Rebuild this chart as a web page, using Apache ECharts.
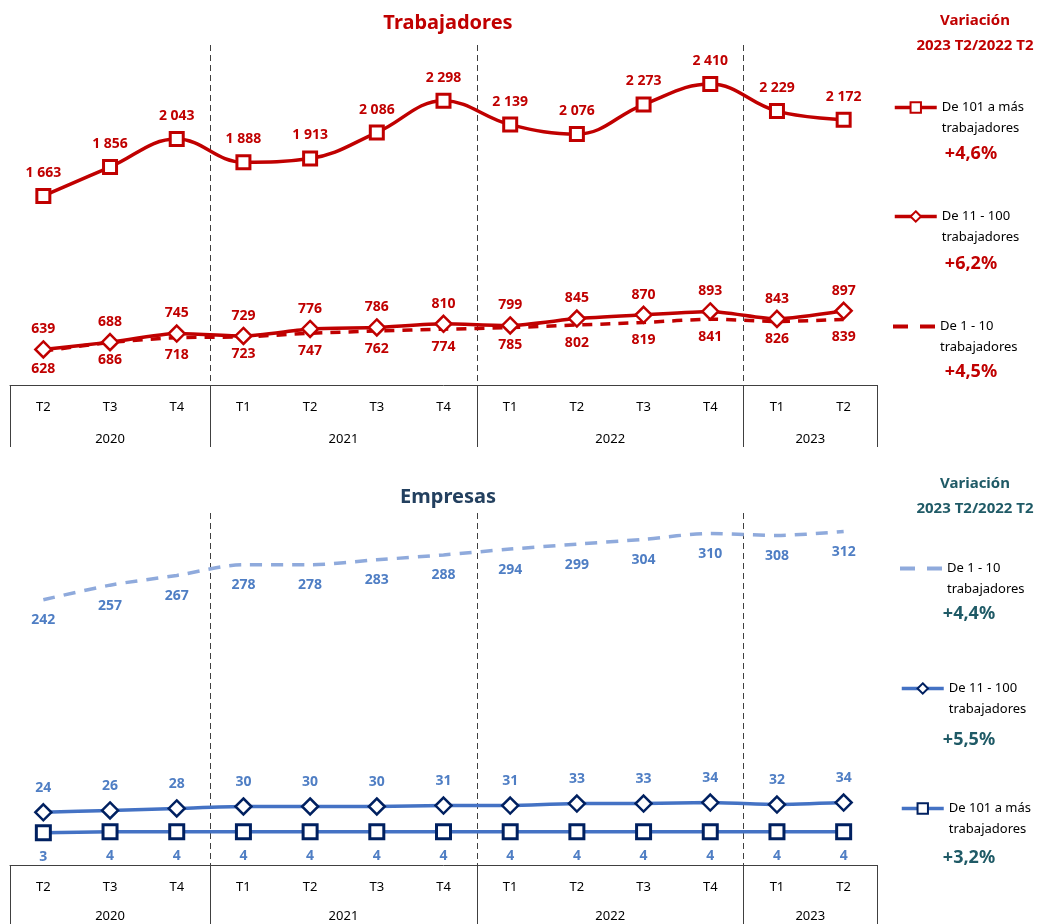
<!DOCTYPE html>
<html>
<head>
<meta charset="utf-8">
<script src="https://cdn.jsdelivr.net/npm/echarts@6/dist/echarts.min.js"></script>
<style>
  html, body { margin: 0; padding: 0; background: #fff; }
  .chart { width: 1041px; }
  #top { height: 460px; }
  #bottom { height: 464px; }
</style>
</head>
<body>
<div id="top" class="chart"></div>
<div id="bottom" class="chart"></div>
<script>
// eje de trimestres
const quarters = ['T2', 'T3', 'T4', 'T1', 'T2', 'T3', 'T4', 'T1', 'T2', 'T3', 'T4', 'T1', 'T2']
const yearNames = ['2020', '2021', '2022', '2023']
const yearSpans = [3, 4, 4, 2]

// Trabajadores (miles)
const trab101 = [1663, 1856, 2043, 1888, 1913, 2086, 2298, 2139, 2076, 2273, 2410, 2229, 2172]
const trab11 = [639, 688, 745, 729, 776, 786, 810, 799, 845, 870, 893, 843, 897]
const trab1 = [628, 686, 718, 723, 747, 762, 774, 785, 802, 819, 841, 826, 839]
const trabVar = ['+4,6%', '+6,2%', '+4,5%']

// Empresas (miles)
const emp1 = [242, 257, 267, 278, 278, 283, 288, 294, 299, 304, 310, 308, 312]
const emp11 = [24, 26, 28, 30, 30, 30, 31, 31, 33, 33, 34, 32, 34]
const emp101 = [3, 4, 4, 4, 4, 4, 4, 4, 4, 4, 4, 4, 4]
const empVar = ['+4,4%', '+5,5%', '+3,2%']

const FONT = '"Noto Sans", "Open Sans", sans-serif'
// icono de leyenda para la línea discontinua (dos trazos)
const DASH_ICON = 'path://M0,0h15v4h-15zM27,0h15v4h-15z'

// eje auxiliar: dos medios pasos por trimestre, el año va en el centro de su tramo
function yearAxis() {
  const data = new Array(quarters.length * 2 + 1).fill('')
  const bounds = [0]
  let start = 0
  yearSpans.forEach((n, i) => {
    data[start + n] = yearNames[i]
    start += 2 * n
    bounds.push(start)
  })
  return { data, bounds }
}

function fmt(v) {
  return String(v).replace(/\B(?=(\d{3})+(?!\d))/g, ' ')
}

function buildOption(cfg) {
  const ya = yearAxis()
  const inner = ya.bounds.slice(1, -1)
  const titles = [
    {
      text: cfg.title, left: 443, top: cfg.titleTop, textAlign: 'center',
      textStyle: { fontFamily: FONT, fontSize: 20, fontWeight: 'bold', color: cfg.titleColor }
    },
    {
      text: 'Variación\n2023 T2/2022 T2', left: 970, top: cfg.headTop, textAlign: 'center',
      textStyle: { fontFamily: FONT, fontSize: 15, fontWeight: 'bold', color: cfg.varColor, lineHeight: 25 }
    }
  ]
  cfg.variation.forEach((v, i) => {
    titles.push({
      text: v, left: cfg.varX, top: cfg.varTops[i], textAlign: 'center',
      textStyle: { fontFamily: FONT, fontSize: 18, fontWeight: 'bold', color: cfg.varColor }
    })
  })

  // el icono queda centrado en el bloque de texto: una línea vacía arriba lo alinea con la primera línea
  const legends = cfg.series.map((s, i) => {
    const lg = {
      data: [s.dash ? { name: s.name, icon: DASH_ICON } : s.name],
      left: cfg.legendX,
      top: cfg.legendTops[i],
      padding: 0,
      itemWidth: 42,
      itemHeight: s.dash ? 4 : 13,
      selectedMode: false,
      formatter: (name) => '\n' + name,
      lineStyle: { width: 3.5 },
      textStyle: { fontFamily: FONT, fontSize: 13, color: '#000', lineHeight: 21 }
    }
    if (s.dash) lg.itemStyle = { color: s.color, borderWidth: 0 }
    return lg
  })

  return {
    animation: false,
    title: titles,
    legend: legends,
    grid: { left: 10, right: 164, top: cfg.gridTop, bottom: cfg.gridBottom },
    xAxis: [
      {
        type: 'category',
        data: quarters,
        position: 'bottom',
        axisLine: { onZero: false, lineStyle: { color: '#404040', width: 1 } },
        axisTick: { show: false },
        axisLabel: { color: '#000', fontFamily: FONT, fontSize: 13, margin: 16, interval: 0 }
      },
      {
        type: 'category',
        data: ya.data,
        position: 'bottom',
        boundaryGap: false,
        axisLine: { show: false, onZero: false },
        axisTick: {
          show: true, length: cfg.tickLen,
          interval: (idx) => ya.bounds.includes(idx),
          lineStyle: { color: '#404040', width: 1 }
        },
        axisLabel: { color: '#000', fontFamily: FONT, fontSize: 13, margin: cfg.yearMargin, interval: 0 },
        splitLine: {
          show: true,
          interval: (idx) => inner.includes(idx),
          lineStyle: { color: '#404040', type: [6, 4], width: 1 }
        }
      }
    ],
    yAxis: { type: 'value', show: false, min: cfg.yMin, max: cfg.yMax },
    series: cfg.series.map((s) => ({
      name: s.name,
      type: 'line',
      xAxisIndex: 0,
      data: s.data,
      smooth: s.smooth,
      symbol: s.symbol,
      symbolSize: s.symbolSize,
      showSymbol: true,
      itemStyle: s.dash
        ? { color: 'rgba(0,0,0,0)', borderWidth: 0 }
        : { color: '#fff', borderColor: s.markColor, borderWidth: s.borderWidth },
      lineStyle: { color: s.color, width: s.width, type: s.dash || 'solid' },
      label: {
        show: true,
        position: s.labelPos,
        distance: s.labelDist,
        formatter: (p) => fmt(p.value),
        fontFamily: FONT, fontSize: 14, fontWeight: 'bold', color: s.labelColor
      },
      emphasis: { disabled: true }
    }))
  }
}

const RED = '#C00000'
const BLUE = '#4472C4'
const NAVY = '#002060'
const LIGHT = '#8FAADC'
const LBLUE = '#4F7EC4'

const topOption = buildOption({
  title: 'Trabajadores', titleTop: 8, titleColor: RED,
  headTop: 3, varColor: RED, varX: 966, varTops: [140, 250, 358],
  legendX: 893, legendTops: [76, 185, 295],
  gridTop: 45, gridBottom: 75, tickLen: 62, yearMargin: 48,
  yMin: 402, yMax: 2670,
  variation: trabVar,
  series: [
    { name: 'De 101 a más\ntrabajadores', data: trab101, smooth: 0.4, symbol: 'rect', symbolSize: 13, borderWidth: 3,
      color: RED, markColor: RED, width: 3.5, labelPos: 'top', labelDist: 8, labelColor: RED },
    { name: 'De 11 - 100\ntrabajadores', data: trab11, smooth: 0.2, symbol: 'diamond', symbolSize: 16, borderWidth: 2.5,
      color: RED, markColor: RED, width: 3.5, labelPos: 'top', labelDist: 4, labelColor: RED },
    { name: 'De 1 - 10\ntrabajadores', data: trab1, smooth: 0.2, symbol: 'circle', symbolSize: 1, borderWidth: 0,
      color: RED, markColor: RED, width: 3.5, dash: [10, 8], labelPos: 'bottom', labelDist: 10, labelColor: RED }
  ]
})

const bottomOption = buildOption({
  title: 'Empresas', titleTop: 22, titleColor: '#23405F',
  headTop: 6, varColor: '#1F5A66', varX: 964, varTops: [140, 266, 384],
  legendX: 900, legendTops: [77, 197, 317],
  gridTop: 53, gridBottom: 59, tickLen: 62, yearMargin: 45,
  yMin: -30, yMax: 331,
  variation: empVar,
  series: [
    { name: 'De 1 - 10\ntrabajadores', data: emp1, smooth: 0.3, symbol: 'circle', symbolSize: 1, borderWidth: 0,
      color: LIGHT, markColor: LIGHT, width: 3.5, dash: [12, 9], labelPos: 'bottom', labelDist: 13, labelColor: LBLUE },
    { name: 'De 11 - 100\ntrabajadores', data: emp11, smooth: 0.2, symbol: 'diamond', symbolSize: 16, borderWidth: 2.5,
      color: BLUE, markColor: NAVY, width: 3.5, labelPos: 'top', labelDist: 8, labelColor: LBLUE },
    { name: 'De 101 a más\ntrabajadores', data: emp101, smooth: 0.2, symbol: 'rect', symbolSize: 14, borderWidth: 3,
      color: BLUE, markColor: NAVY, width: 3.5, labelPos: 'bottom', labelDist: 9, labelColor: LBLUE }
  ]
})

const topChart = echarts.init(document.getElementById('top'))
topChart.setOption(topOption)
const bottomChart = echarts.init(document.getElementById('bottom'))
bottomChart.setOption(bottomOption)

window.addEventListener('resize', () => {
  topChart.resize()
  bottomChart.resize()
})
</script>
</body>
</html>
